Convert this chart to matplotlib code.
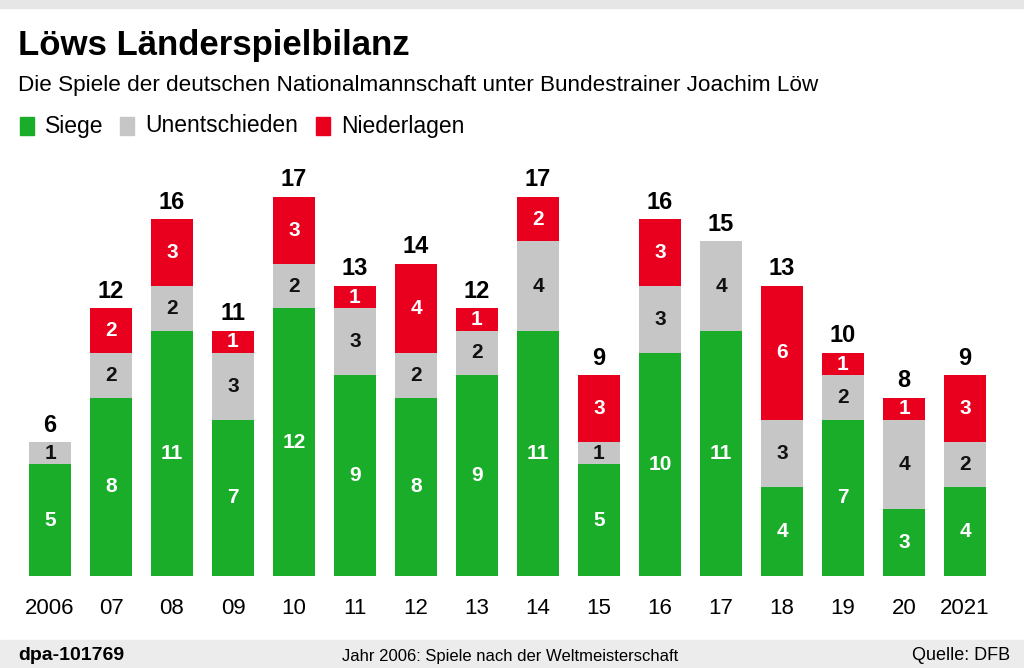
import matplotlib
matplotlib.use('Agg')
import matplotlib.pyplot as plt
from matplotlib.patches import Rectangle
import numpy as np

plt.rcParams['font.family'] = ['Liberation Sans Narrow', 'Liberation Sans', 'DejaVu Sans']

jahre = ['2006', '07', '08', '09', '10', '11', '12', '13', '14', '15',
         '16', '17', '18', '19', '20', '2021']
siege = [5, 8, 11, 7, 12, 9, 8, 9, 11, 5, 10, 11, 4, 7, 3, 4]
unentschieden = [1, 2, 2, 3, 2, 3, 2, 2, 4, 1, 3, 4, 3, 2, 4, 2]
niederlagen = [0, 2, 3, 1, 3, 1, 4, 1, 2, 3, 3, 0, 6, 1, 1, 3]

GRUEN = '#19ad2a'
GRAU = '#c6c6c6'
ROT = '#e8001e'

fig = plt.figure(figsize=(10.24, 6.68), dpi=100)
fig.patch.set_facecolor('white')

# graue Bänder oben und unten
fig.add_artist(Rectangle((0, 1 - 8 / 668), 1, 8 / 668, transform=fig.transFigure,
                         color='#e6e6e6', zorder=0))
fig.add_artist(Rectangle((0, 0), 1, 28 / 668, transform=fig.transFigure,
                         color='#ececec', zorder=0))

ax = fig.add_axes([19.5 / 1024, 92 / 668, 976 / 1024, 426 / 668])
x = np.arange(len(jahre))
s = np.array(siege)
u = np.array(unentschieden)
n = np.array(niederlagen)
gesamt = s + u + n
w = 0.7

ax.bar(x, s, width=w, color=GRUEN)
ax.bar(x, u, width=w, bottom=s, color=GRAU)
ax.bar(x, n, width=w, bottom=s + u, color=ROT)

for i in range(len(x)):
    ax.text(x[i], s[i] / 2, str(s[i]), ha='center', va='center',
            color='white', fontsize=15, fontweight='bold')
    if u[i]:
        ax.text(x[i], s[i] + u[i] / 2, str(u[i]), ha='center', va='center',
                color='#111111', fontsize=15, fontweight='bold')
    if n[i]:
        ax.text(x[i], s[i] + u[i] + n[i] / 2, str(n[i]), ha='center', va='center',
                color='white', fontsize=15, fontweight='bold')
    ax.text(x[i], gesamt[i] + 0.25, str(gesamt[i]), ha='center', va='bottom',
            color='black', fontsize=17, fontweight='bold')

ax.set_xlim(-0.5, len(x) - 0.5)
ax.set_ylim(0, 19.1)
ax.set_xticks(x)
ax.set_xticklabels(jahre, fontsize=16)
ax.tick_params(axis='x', length=0, pad=16)
ax.set_yticks([])
for sp in ax.spines.values():
    sp.set_visible(False)

# Titel und Untertitel
fig.text(18 / 1024, 1 - 45 / 668, 'Löws Länderspielbilanz', fontsize=25,
         fontweight='bold', va='center', ha='left')
fig.text(18 / 1024, 1 - 85 / 668,
         'Die Spiele der deutschen Nationalmannschaft unter Bundestrainer Joachim Löw',
         fontsize=16.2, va='center', ha='left')

# Legende
leg_y = 1 - 126 / 668
eintraege = [('Siege', GRUEN, 20), ('Unentschieden', GRAU, 120), ('Niederlagen', ROT, 316)]
for label, farbe, px in eintraege:
    fig.add_artist(Rectangle((px / 1024, leg_y - 9 / 668), 14 / 1024, 18 / 668,
                             transform=fig.transFigure, color=farbe))
    fig.text((px + 25) / 1024, leg_y, label, fontsize=16.5, va='center', ha='left')

# Fußzeile
fig.text(18 / 1024, 12 / 668, 'dpa-101769', fontsize=14, fontweight='bold',
         va='center', ha='left')
fig.text(510 / 1024, 12 / 668, 'Jahr 2006: Spiele nach der Weltmeisterschaft',
         fontsize=12, va='center', ha='center')
fig.text(1010 / 1024, 12 / 668, 'Quelle: DFB', fontsize=13, va='center', ha='right')

fig.savefig('out.png', dpi=100)
